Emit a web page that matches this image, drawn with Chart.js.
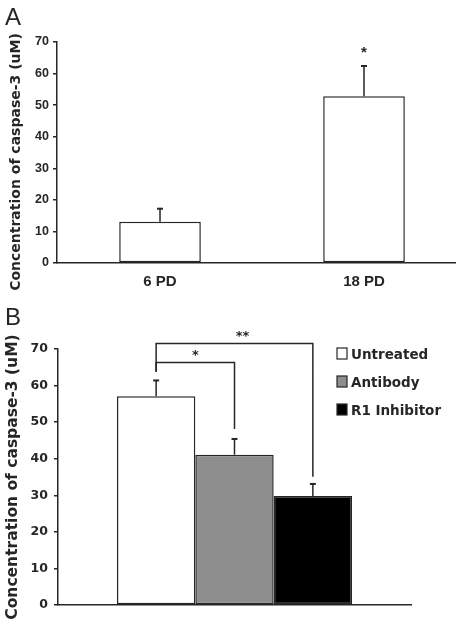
<!DOCTYPE html>
<html>
<head>
<meta charset="utf-8">
<script src="https://cdn.jsdelivr.net/npm/chart.js@4"></script>
<style>
  body { margin: 0; background: #fff; width: 462px; height: 629px; overflow: hidden; position: relative; }
  canvas { position: absolute; left: 0; }
  #chartA { top: 0; }
  #chartB { top: 300px; }
</style>
</head>
<body>
<canvas id="chartA" width="462" height="300"></canvas>
<canvas id="chartB" width="462" height="329"></canvas>
<script>
// panel A
const pdLabels = ["6 PD", "18 PD"]
const pdMeans = [13.1, 52.8]
const pdErrors = [4.1, 9.6]
const pdMarks = ["", "*"]

// panel B
const groupNames = ["Untreated", "Antibody", "R1 Inhibitor"]
const groupMeans = [57.1, 41.1, 29.8]
const groupErrors = [4.3, 4.3, 3.3]
const groupColors = ["#ffffff", "#8e8e8e", "#000000"]

// significance brackets in panel B (values on the y scale)
const brackets = [
    {from: 0, to: 1, level: 66.3, fromEnd: 63.8, toEnd: 48.1, mark: "*"},
    {from: 0, to: 2, level: 71.5, fromEnd: 63.8, toEnd: 35.1, mark: "**"}
]

const yMax = 70
const yStep = 10
const yTitle = "Concentration of caspase-3 (uM)"

const ink = "#262626"
const verdana = "'DejaVu Sans', Verdana, sans-serif"
const arial = "'Liberation Sans', Arial, sans-serif"

const valueOf = d => (typeof d === "object" ? d.y : d)

// error bars: vertical line from the bar top with a small cap
const drawErrors = (chart) => {
    const ctx = chart.ctx
    const y = chart.scales.y
    ctx.save()
    ctx.strokeStyle = ink
    chart.data.datasets.forEach((ds, di) => {
        chart.getDatasetMeta(di).data.forEach((bar, i) => {
            const top = y.getPixelForValue(valueOf(ds.data[i]) + ds.errors[i])
            ctx.lineWidth = 1.5
            ctx.beginPath()
            ctx.moveTo(bar.x, bar.y)
            ctx.lineTo(bar.x, top)
            ctx.stroke()
            ctx.lineWidth = 2
            ctx.beginPath()
            ctx.moveTo(bar.x - 3, top)
            ctx.lineTo(bar.x + 3, top)
            ctx.stroke()
        })
    })
    ctx.restore()
}

const drawYTitle = (chart, x, y, font) => {
    const ctx = chart.ctx
    ctx.save()
    ctx.translate(x, y)
    ctx.rotate(-Math.PI / 2)
    ctx.font = font
    ctx.fillStyle = ink
    ctx.textAlign = "center"
    ctx.textBaseline = "middle"
    ctx.fillText(yTitle, 0, 0)
    ctx.restore()
}

const drawPanelLetter = (chart, letter) => {
    const ctx = chart.ctx
    ctx.save()
    ctx.font = "300 24px " + arial
    ctx.fillStyle = ink
    ctx.textAlign = "left"
    ctx.textBaseline = "alphabetic"
    ctx.fillText(letter, 5, 25)
    ctx.restore()
}

const axisY = (tickFont, width, pad) => ({
    min: 0,
    max: yMax,
    afterFit: scale => { scale.width = width },
    ticks: { stepSize: yStep, color: ink, font: tickFont, padding: pad },
    grid: { drawOnChartArea: false, drawTicks: true, tickLength: 4, color: ink, lineWidth: 1.5 },
    border: { color: ink, width: 1.5 }
})

const panelA = {
    id: "panelA",
    afterDatasetsDraw(chart) {
        drawErrors(chart)
        const ctx = chart.ctx
        const y = chart.scales.y
        const meta = chart.getDatasetMeta(0)
        ctx.save()
        ctx.font = "bold 15px " + arial
        ctx.fillStyle = ink
        ctx.textAlign = "center"
        ctx.textBaseline = "alphabetic"
        pdMarks.forEach((m, i) => {
            if (!m) return
            const top = y.getPixelForValue(pdMeans[i] + pdErrors[i])
            ctx.fillText(m, meta.data[i].x, top - 9)
        })
        ctx.restore()
        drawYTitle(chart, 16, 162, "bold 14px " + verdana)
        drawPanelLetter(chart, "A")
    }
}

new Chart(document.getElementById("chartA"), {
    type: "bar",
    data: {
        datasets: [{
            data: pdMeans.map((v, i) => ({ x: i + 1, y: v })),
            errors: pdErrors,
            backgroundColor: "#ffffff",
            borderColor: ink,
            borderWidth: 1.5,
            borderSkipped: false,
            categoryPercentage: 1,
            barPercentage: 0.40
        }]
    },
    options: {
        responsive: false,
        animation: false,
        layout: { padding: { top: 42, right: 7, left: 0, bottom: 0 } },
        plugins: { legend: { display: false }, tooltip: { enabled: false } },
        scales: {
            x: {
                type: "linear",
                offset: false,
                bounds: "ticks",
                min: 0.495,
                max: 2.446,
                afterFit: scale => { scale.height = 37 },
                afterBuildTicks: scale => { scale.ticks = pdLabels.map((_, i) => ({ value: i + 1 })) },
                ticks: {
                    color: ink,
                    font: { family: arial, size: 15, weight: "bold" },
                    padding: 2,
                    callback: v => pdLabels[v - 1]
                },
                grid: { display: false },
                border: { color: ink, width: 1.5 }
            },
            y: axisY({ family: arial, size: 12.5, weight: "bold" }, 57, 4)
        }
    },
    plugins: [panelA]
})

const panelB = {
    id: "panelB",
    afterDatasetsDraw(chart) {
        drawErrors(chart)
        const ctx = chart.ctx
        const y = chart.scales.y
        const barX = i => chart.getDatasetMeta(i).data[0].x

        // brackets
        ctx.save()
        ctx.strokeStyle = ink
        ctx.lineWidth = 1.5
        ctx.fillStyle = ink
        ctx.font = "bold 13px " + verdana
        ctx.textAlign = "center"
        ctx.textBaseline = "alphabetic"
        brackets.forEach(b => {
            const x1 = barX(b.from), x2 = barX(b.to)
            const yl = y.getPixelForValue(b.level)
            ctx.beginPath()
            ctx.moveTo(x1, y.getPixelForValue(b.fromEnd))
            ctx.lineTo(x1, yl)
            ctx.lineTo(x2, yl)
            ctx.lineTo(x2, y.getPixelForValue(b.toEnd))
            ctx.stroke()
            ctx.fillText(b.mark, (x1 + x2) / 2 + (b.mark.length - 1) * 8, yl - 4)
        })
        ctx.restore()

        // legend
        ctx.save()
        ctx.font = "bold 13.5px " + verdana
        ctx.textAlign = "left"
        ctx.textBaseline = "alphabetic"
        groupNames.forEach((name, i) => {
            const top = 48 + i * 28
            ctx.fillStyle = groupColors[i]
            ctx.fillRect(337, top, 10, 11)
            ctx.strokeStyle = ink
            ctx.lineWidth = 1.2
            ctx.strokeRect(337, top, 10, 11)
            ctx.fillStyle = ink
            ctx.fillText(name, 351, top + 10.5)
        })
        ctx.restore()

        drawYTitle(chart, 13, 177, "bold 15.5px " + verdana)
        drawPanelLetter(chart, "B")
    }
}

new Chart(document.getElementById("chartB"), {
    type: "bar",
    data: {
        labels: [""],
        datasets: groupNames.map((name, i) => ({
            label: name,
            data: [groupMeans[i]],
            errors: [groupErrors[i]],
            backgroundColor: groupColors[i],
            borderColor: ink,
            borderWidth: 1.5,
            borderSkipped: false,
            categoryPercentage: 0.666,
            barPercentage: 1
        }))
    },
    options: {
        responsive: false,
        animation: false,
        layout: { padding: { top: 49, right: 51, left: 0, bottom: 0 } },
        plugins: { legend: { display: false }, tooltip: { enabled: false } },
        scales: {
            x: {
                afterFit: scale => { scale.height = 24 },
                ticks: { display: false },
                grid: { display: false },
                border: { color: ink, width: 1.5 }
            },
            y: axisY({ family: verdana, size: 12.5, weight: "bold" }, 58, 6)
        }
    },
    plugins: [panelB]
})
</script>
</body>
</html>
